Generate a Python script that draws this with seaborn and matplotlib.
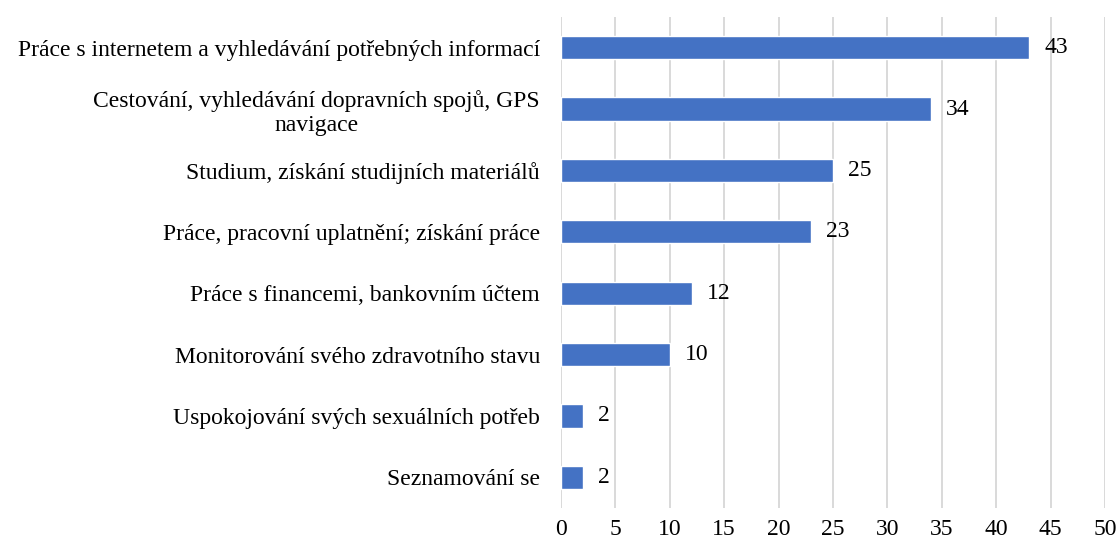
import pandas as pd
import matplotlib.pyplot as plt
import seaborn as sns

# data
categories = [
    'Práce s internetem a vyhledávání potřebných informací',
    'Cestování, vyhledávání dopravních spojů, GPS\nnavigace',
    'Studium, získání studijních materiálů',
    'Práce, pracovní uplatnění; získání práce',
    'Práce s financemi, bankovním účtem',
    'Monitorování svého zdravotního stavu',
    'Uspokojování svých sexuálních potřeb',
    'Seznamování se',
]
values = [43, 34, 25, 23, 12, 10, 2, 2]
x_ticks = [0, 5, 10, 15, 20, 25, 30, 35, 40, 45, 50]

df = pd.DataFrame({'kategorie': categories, 'pocet': values})

sns.set_style('white')
plt.rcParams['font.family'] = ['Liberation Serif', 'DejaVu Serif']
plt.rcParams['text.color'] = 'black'
plt.rcParams['xtick.color'] = 'black'
plt.rcParams['ytick.color'] = 'black'

fig = plt.figure(figsize=(11.19, 5.42), dpi=100)
ax = fig.add_axes([0.5013, 0.0627, 0.4862, 0.906])

sns.barplot(data=df, y='kategorie', x='pocet', orient='h',
            color='#4472C4', saturation=1, width=0.38, ax=ax)

# value labels
for container in ax.containers:
    ax.bar_label(container, padding=11, fontsize=17)

ax.set_xlim(0, 50)
ax.set_xticks(x_ticks)
ax.set_xlabel('')
ax.set_ylabel('')
ax.grid(axis='x', color='#d9d9d9', linewidth=1.4)
ax.set_axisbelow(True)
sns.despine(ax=ax, left=True, bottom=True)
ax.tick_params(axis='both', length=0, labelsize=17)
ax.tick_params(axis='y', pad=15)
ax.tick_params(axis='x', pad=8)
for lbl in ax.get_yticklabels():
    lbl.set_multialignment('center')

plt.savefig('out.png', dpi=100)
